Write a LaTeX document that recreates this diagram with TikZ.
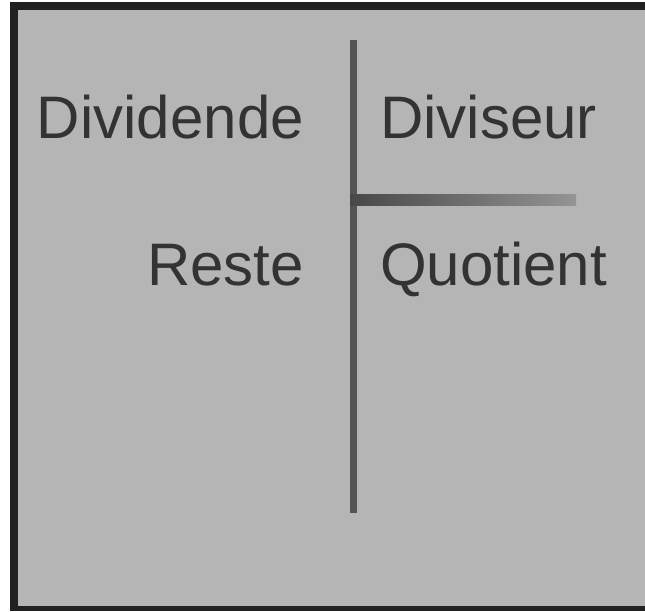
\documentclass[tikz,border=0pt]{standalone}
\usepackage{fontspec}
\setmainfont{Liberation Sans}
\begin{document}
\begin{tikzpicture}[x=1pt,y=-1pt,
  lbl/.style={inner sep=0pt,text=black!80,font=\fontsize{60}{60}\selectfont},
  rulev/.style={draw=black!67,line width=7pt}]
\useasboundingbox (0,0) rectangle (645,611);
\fill[white] (0,0) rectangle (645,611);
\fill[black!87] (10,2) rectangle (645,611);
\fill[black!29] (18,10) rectangle (645,606);
% labels
\node[lbl,anchor=base east] (dividende) at (304,138) {Dividende};
\node[lbl,anchor=base west] (diviseur) at (380,138) {Diviseur};
\node[lbl,anchor=base east] (reste) at (304,285) {Reste};
\node[lbl,anchor=base west] (quotient) at (380,285) {Quotient};
% vertical bar
\coordinate (vtop) at (353.5,40);
\coordinate (vbot) at (353.5,513);
\draw[rulev] (vtop) -- (vbot);
% horizontal bar with fading shade
\shade[left color=black!72,right color=black!42] (350,194) rectangle (576,205);
\end{tikzpicture}
\end{document}
